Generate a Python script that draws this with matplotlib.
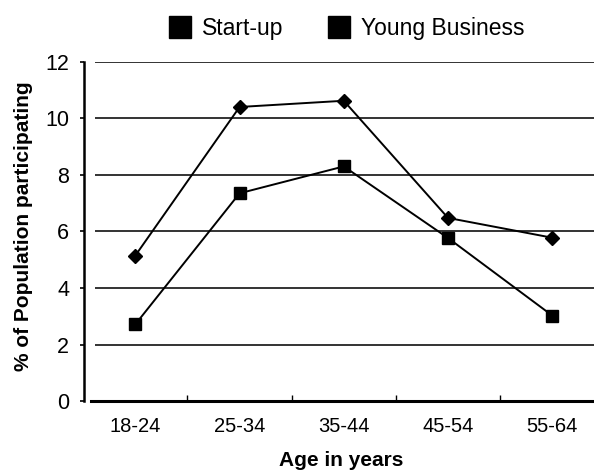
import matplotlib
matplotlib.use("Agg")
import matplotlib.pyplot as plt
from matplotlib.lines import Line2D

# datos
edades = ["18-24", "25-34", "35-44", "45-54", "55-64"]
start_up = [5.15, 10.4, 10.62, 6.48, 5.78]
young_business = [2.72, 7.35, 8.3, 5.77, 3.03]
y_ticks = [0, 2, 4, 6, 8, 10, 12]

plt.rcParams['font.family'] = ['Liberation Sans', 'DejaVu Sans']

fig = plt.figure(figsize=(5.94, 4.70), dpi=100)
ax = fig.add_axes([0.1419, 0.1462, 0.8755, 0.7225])

x = list(range(len(edades)))
ax.plot(x, start_up, color='black', lw=1.4, marker='D', markersize=7)
ax.plot(x, young_business, color='black', lw=1.4, marker='s', markersize=8.3)

ax.set_xlim(-0.49, 4.5)
ax.set_ylim(0, 12)

# lineas horizontales (empiezan un poco a la derecha del eje)
ax.hlines(y_ticks[1:], 0.021, 1, transform=ax.get_yaxis_transform(),
          color='#111111', lw=1.2, zorder=0)

ax.set_xticks(x)
ax.set_xticklabels(edades, fontsize=14.5)
ax.set_xticks([i + 0.5 for i in x[:-1]], minor=True)
ax.tick_params(axis='x', which='major', length=0, pad=11)
ax.tick_params(axis='x', which='minor', direction='in', length=4, width=1)

ax.set_yticks(y_ticks)
ax.set_yticklabels([str(v) for v in y_ticks], fontsize=15.5)
ax.tick_params(axis='y', length=3, width=1.2, pad=8)

for s in ['top', 'right']:
    ax.spines[s].set_visible(False)
ax.spines['left'].set_linewidth(1.8)
ax.spines['bottom'].set_linewidth(2.2)
ax.spines['bottom'].set_bounds(-0.43, 4.5)

fig.text(24 / 594, 1 - 226 / 470, "% of Population participating",
         rotation=90, ha='center', va='center', fontsize=15, fontweight='bold')
fig.text(341 / 594, 4 / 470, "Age in years", ha='center', va='baseline',
         fontsize=15, fontweight='bold')

handles = [Line2D([], [], marker='s', color='black', ls='none', markersize=16),
           Line2D([], [], marker='s', color='black', ls='none', markersize=16)]
fig.legend(handles, ["Start-up", "Young Business"], loc='center',
           bbox_to_anchor=(346.5 / 594, 1 - 29 / 470), ncol=2, frameon=False,
           fontsize=16.5, handlelength=1.0, handletextpad=0.45,
           columnspacing=1.9, borderpad=0)

fig.savefig("out.png", dpi=100)
